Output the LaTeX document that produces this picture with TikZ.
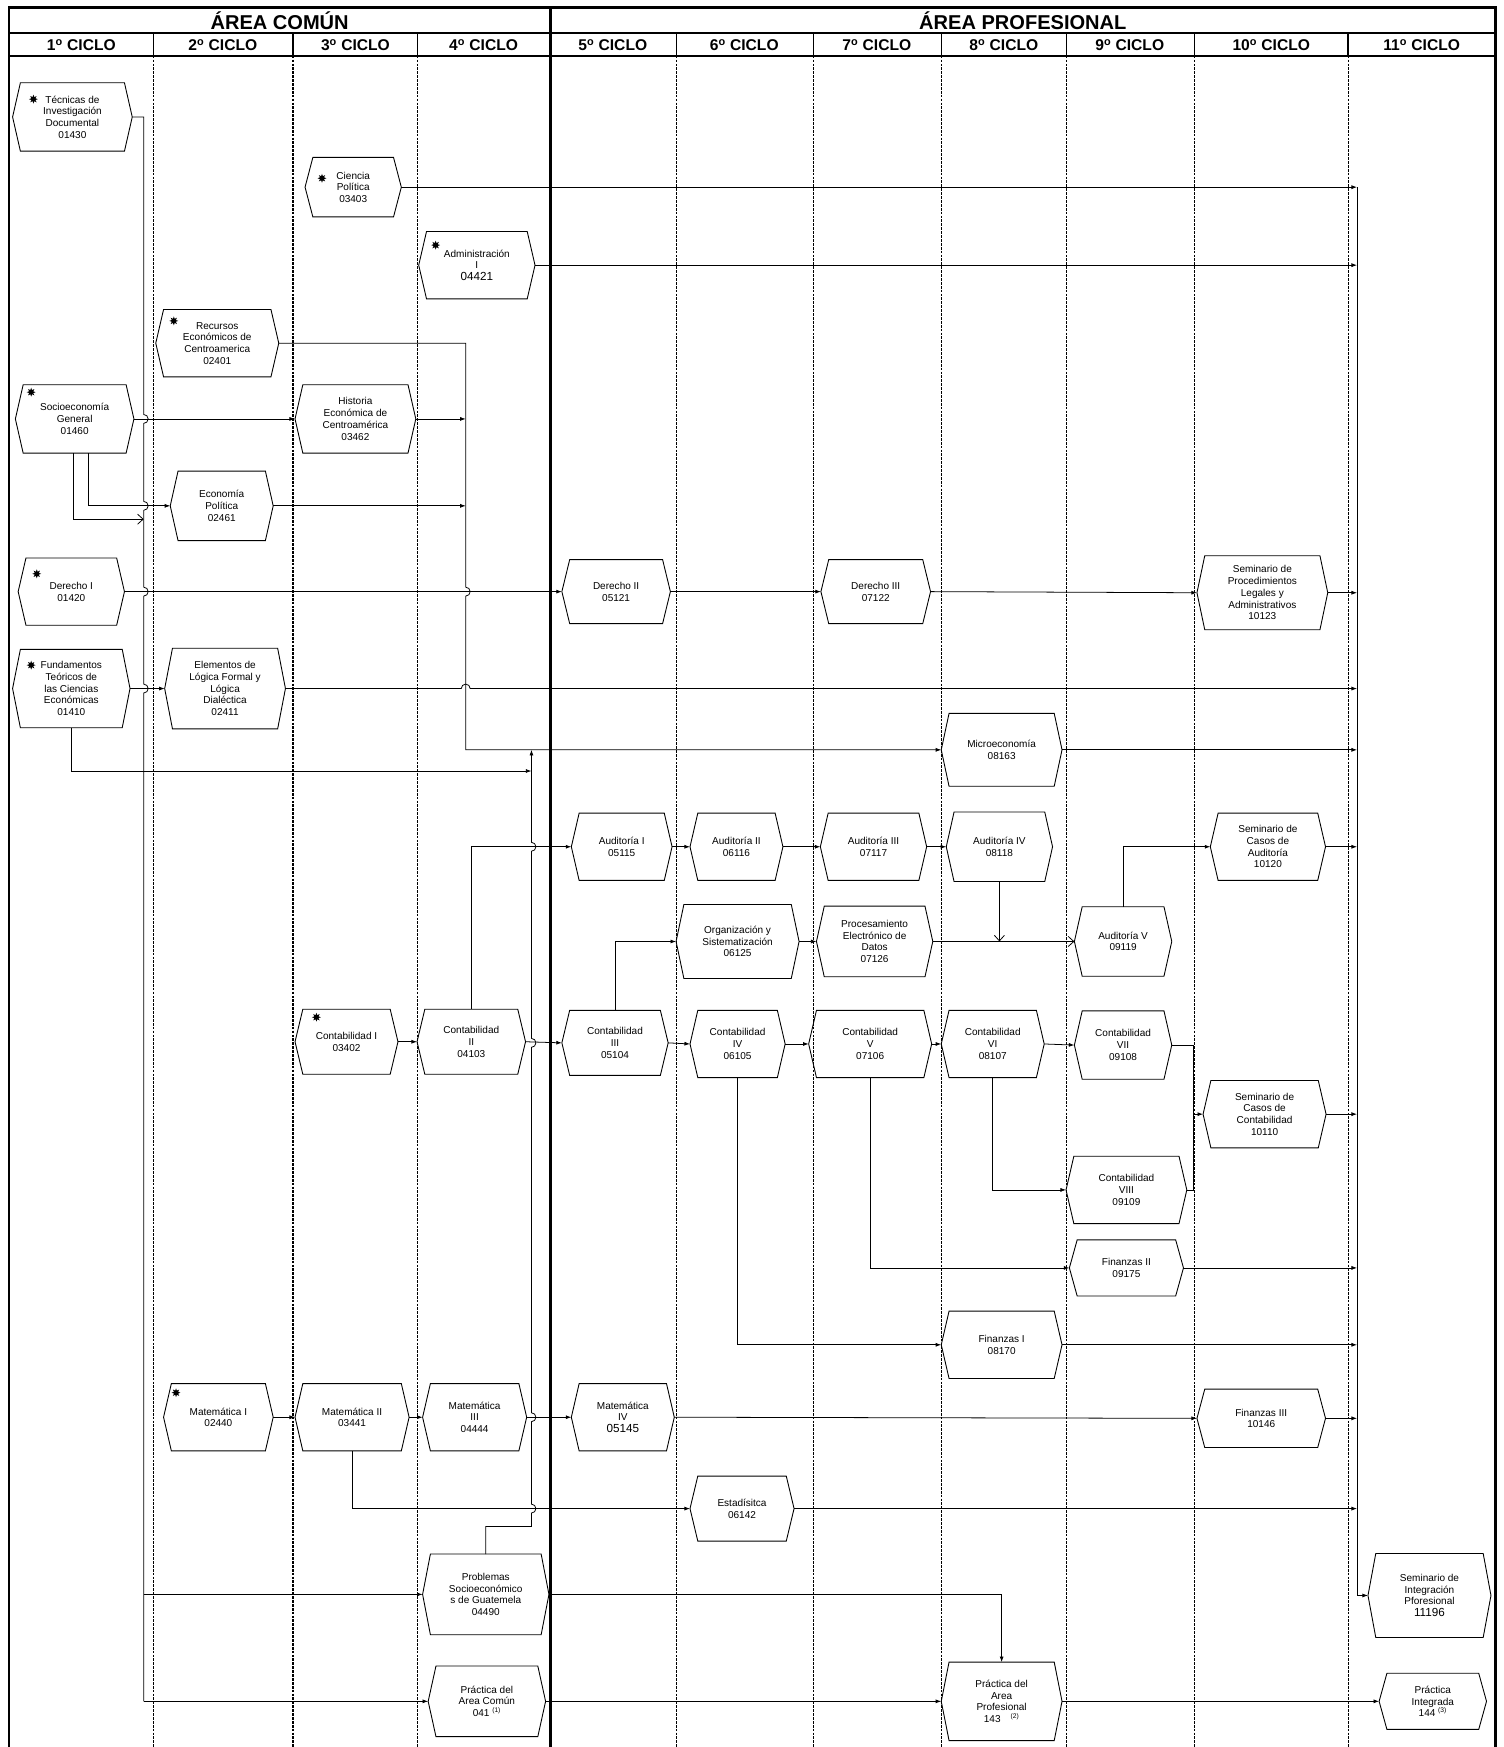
\documentclass[tikz,border=0pt]{standalone}
\usepackage{fontspec}
\setmainfont{Liberation Sans}
\usetikzlibrary{arrows.meta,calc,shapes.geometric}
\newcommand\nodetxt{\fontsize{9}{10.5}\selectfont}
\newcommand\bignum[1]{{\fontsize{10.5}{12}\selectfont #1}}
\newcommand\hexbox[6]{%
  \node[hexn, minimum width=#4pt, minimum height=#5pt] (#1) at (#2,#3) {#6};
  \draw[hexline] (#1.west) -- ([xshift=7pt]#1.north west) -- ([xshift=-7pt]#1.north east) -- (#1.east) -- ([xshift=-7pt]#1.south east) -- ([xshift=7pt]#1.south west) -- cycle;
}
\tikzset{
  hexn/.style={inner sep=0pt, align=center, font=\nodetxt},
  hexline/.style={line width=0.8pt, line join=miter},
  conn/.style={line width=0.7pt},
  arr/.style={conn, -{Latex[length=5pt,width=3.6pt]}},
  oarr/.style={conn, -{Straight Barb[length=5pt,width=9pt]}},
  starmark/.style={star, star points=8, star point ratio=2.0, fill, draw=none, minimum size=8pt, inner sep=0pt},
  framethick/.style={line width=2.4pt},
  rowline/.style={line width=1.8pt},
  hdrsep/.style={line width=1.2pt},
  colsep/.style={line width=1.1pt, dash pattern=on 2.5pt off 1pt},
  areatxt/.style={font=\fontsize{18}{20}\selectfont\bfseries},
  ciclotxt/.style={font=\fontsize{14}{15}\selectfont\bfseries},
}
\begin{document}
\begin{tikzpicture}[x=1pt,y=-1pt]
\useasboundingbox (0,0) rectangle (1349,1568);
% ---------- frame and header ----------
\foreach \cx in {138,263,375,607,730,845,957,1072,1210}{
  \draw[hdrsep] (\cx,30) -- (\cx,50);
  \draw[colsep] (\cx,50) -- (\cx,1568);
}
\draw[rowline] (8,30) -- (1342,30);
\draw[rowline] (8,50) -- (1342,50);
\draw[framethick] (494,7) -- (494,1568);
\draw[framethick] (8,1568) -- (8,7) -- (1342,7) -- (1342,1568);
\node[areatxt] (hA) at (251,19) {ÁREA COMÚN};
\node[areatxt] (hP) at (918,19) {ÁREA PROFESIONAL};
\node[ciclotxt] (c1) at (73,40.5) {1\textsuperscript{o} CICLO};
\node[ciclotxt] (c2) at (200,40.5) {2\textsuperscript{o} CICLO};
\node[ciclotxt] (c3) at (319,40.5) {3\textsuperscript{o} CICLO};
\node[ciclotxt] (c4) at (434,40.5) {4\textsuperscript{o} CICLO};
\node[ciclotxt] (c5) at (550,40.5) {5\textsuperscript{o} CICLO};
\node[ciclotxt] (c6) at (668,40.5) {6\textsuperscript{o} CICLO};
\node[ciclotxt] (c7) at (787,40.5) {7\textsuperscript{o} CICLO};
\node[ciclotxt] (c8) at (901,40.5) {8\textsuperscript{o} CICLO};
\node[ciclotxt] (c9) at (1014,40.5) {9\textsuperscript{o} CICLO};
\node[ciclotxt] (c10) at (1141,40.5) {10\textsuperscript{o} CICLO};
\node[ciclotxt] (c11) at (1276,40.5) {11\textsuperscript{o} CICLO};
% ---------- nodes ----------
\hexbox{n01430}{65}{105}{107}{61}{Técnicas de\\Investigación\\Documental\\01430}
\hexbox{n03403}{317}{168}{86}{53}{Ciencia\\Política\\03403}
\hexbox{n04421}{428}{238}{104}{60}{Administración\\I\\\bignum{04421}}
\hexbox{n02401}{195}{308}{110}{60}{Recursos\\Económicos de\\Centroamerica\\02401}
\hexbox{n01460}{67}{376}{106}{61}{Socioeconomía\\General\\01460}
\hexbox{n03462}{319}{376}{108}{61}{Historia\\Económica de\\Centroamérica\\03462}
\hexbox{n02461}{199}{454}{92}{62}{Economía\\Política\\02461}
\hexbox{n01420}{64}{531}{95}{60}{Derecho I\\01420}
\hexbox{n05121}{553}{531}{97}{57}{Derecho II\\05121}
\hexbox{n07122}{786}{531}{98}{57}{Derecho III\\07122}
\hexbox{n10123}{1133}{532}{117}{66}{Seminario de\\Procedimientos\\Legales y\\Administrativos\\10123}
\hexbox{n01410}{64}{618}{105}{70}{Fundamentos\\Teóricos de\\las Ciencias\\Económicas\\01410}
\hexbox{n02411}{202}{618}{108}{72}{Elementos de\\Lógica Formal y\\Lógica\\Dialéctica\\02411}
\hexbox{n08163}{899}{673}{108}{65}{Microeconomía\\08163}
\hexbox{n05115}{558}{760}{90}{60}{Auditoría I\\05115}
\hexbox{n06116}{661}{760}{83}{60}{Auditoría II\\06116}
\hexbox{n07117}{784}{760}{95}{60}{Auditoría III\\07117}
\hexbox{n08118}{897}{760}{95}{62}{Auditoría IV\\08118}
\hexbox{n10120}{1138}{760}{103}{60}{Seminario de\\Casos de\\Auditoría\\10120}
\hexbox{n06125}{662}{845}{110}{66}{Organización y\\Sistematización\\06125}
\hexbox{n07126}{785}{845}{104}{63}{Procesamiento\\Electrónico de\\Datos\\07126}
\hexbox{n09119}{1008}{845}{87}{62}{Auditoría V\\09119}
\hexbox{n03402}{311}{935}{92}{58}{Contabilidad I\\03402}
\hexbox{n04103}{423}{935}{97}{58}{Contabilidad\\II\\04103}
\hexbox{n05104}{552}{936}{95}{58}{Contabilidad\\III\\05104}
\hexbox{n06105}{662}{937}{85}{60}{Contabilidad\\IV\\06105}
\hexbox{n07106}{781}{937}{110}{60}{Contabilidad\\V\\07106}
\hexbox{n08107}{891}{937}{92}{60}{Contabilidad\\VI\\08107}
\hexbox{n09108}{1008}{938}{87}{61}{Contabilidad\\VII\\09108}
\hexbox{n10110}{1135}{1000}{110}{60}{Seminario de\\Casos de\\Contabilidad\\10110}
\hexbox{n09109}{1011}{1068}{108}{60}{Contabilidad\\VIII\\09109}
\hexbox{n09175}{1011}{1138}{102}{50}{Finanzas II\\09175}
\hexbox{n08170}{899}{1207}{108}{60}{Finanzas I\\08170}
\hexbox{n02440}{196}{1272}{98}{60}{Matemática I\\02440}
\hexbox{n03441}{316}{1272}{102}{60}{Matemática II\\03441}
\hexbox{n04444}{426}{1272}{93}{60}{Matemática\\III\\04444}
\hexbox{n05145}{559}{1272}{92}{60}{Matemática\\IV\\\bignum{05145}}
\hexbox{n10146}{1132}{1273}{115}{52}{Finanzas III\\10146}
\hexbox{n06142}{666}{1354}{93}{58}{Estadísitca\\06142}
\hexbox{n04490}{436}{1431}{113}{72}{Problemas\\Socioeconómico\\s de Guatemela\\04490}
\hexbox{n11196}{1283}{1432}{110}{75}{Seminario de\\Integración\\Pforesional\\\bignum{11196}}
\hexbox{n041}{437}{1527}{105}{63}{Práctica del\\Area Común\\041 \textsuperscript{(1)}}
\hexbox{n143}{899}{1527}{108}{70}{Práctica del\\Area\\Profesional\\143\quad\textsuperscript{(2)}}
\hexbox{n144}{1286}{1527}{96}{50}{Práctica\\Integrada\\144 \textsuperscript{(3)}}
% ---------- star marks ----------
\node[starmark] (s1) at (30,89) {};
\node[starmark] (s2) at (289,160) {};
\node[starmark] (s3) at (391,220) {};
\node[starmark] (s4) at (156,288) {};
\node[starmark] (s5) at (28,352) {};
\node[starmark] (s6) at (33,515) {};
\node[starmark] (s7) at (28,597) {};
\node[starmark] (s8) at (284,913) {};
\node[starmark] (s9) at (158,1250) {};
% ---------- helper coordinates ----------
\coordinate (vA) at (129,0);
\coordinate (vD) at (418,0);
\coordinate (vE) at (477,0);
\coordinate (vK) at (1071,0);
\coordinate (vR) at (1218,0);
\coordinate (yS) at (0,466);
\coordinate (yF) at (0,692);
\coordinate (yP) at (0,1370);
% ---------- connectors ----------
% vertical A
\draw[conn] (n01430.east) -- (n01430.east -| vA)
  -- ($(vA |- n01460.east)+(0,-4)$) arc[start angle=90,end angle=-90,radius=4pt]
  -- ($(vA |- n02461.west)+(0,-4)$) arc[start angle=90,end angle=-90,radius=4pt]
  -- ($(vA |- n01420.east)+(0,-4)$) arc[start angle=90,end angle=-90,radius=4pt]
  -- ($(vA |- n01410.east)+(0,-4)$) arc[start angle=90,end angle=-90,radius=4pt]
  -- (vA |- n041.west);
\draw[arr] (vA |- n041.west) -- (n041.west);
\draw[arr] (vA |- n04490.west) -- (n04490.west);
% socioeconomia
\draw[arr] (n01460.east) -- (n03462.west);
\draw[arr] ($(n01460.south)+(12,0)$) |- (n02461.west);
\draw[oarr] ($(n01460.south)+(-1,0)$) |- (vA |- yS);
% recursos / vertical D
\draw[arr] (n02401.east) -- (n02401.east -| vD)
  -- ($(vD |- n01420.east)+(0,-4)$) arc[start angle=90,end angle=-90,radius=4pt]
  -- (vD |- n08163.west) -- (n08163.west);
\draw[arr] (n03462.east) -- (n03462.east -| vD);
\draw[arr] (n02461.east) -- (n02461.east -| vD);
% derecho
\draw[arr] (n01420.east) -- (n05121.west);
\draw[arr] (n05121.east) -- (n07122.west);
\draw[arr] (n07122.east) -- (n10123.west);
\draw[arr] (n10123.east) -- (n10123.east -| vR);
% fundamentos
\draw[arr] (n01410.east) -- (n02411.west);
\draw[arr] (n02411.east) -- ($(vD |- n02411.east)+(-4,0)$) arc[start angle=180,end angle=0,radius=4pt] -- (n02411.east -| vR);
\draw[arr] (n01410.south) |- (vE |- yF);
% vertical E
\draw[arr] (n04490.north) -- (n04490.north |- yP) -- (vE |- yP)
  -- ($(vE |- n06142.west)+(0,4)$) arc[start angle=-90,end angle=90,radius=4pt]
  -- ($(vE |- n03441.east)+(0,4)$) arc[start angle=-90,end angle=90,radius=4pt]
  -- ($(vE |- n05104.west)+(0,4)$) arc[start angle=-90,end angle=90,radius=4pt]
  -- ($(vE |- n05115.west)+(0,4)$) arc[start angle=-90,end angle=90,radius=4pt]
  -- (vE |- n08163.west);
% to the collector
\draw[arr] (n03403.east) -- (n03403.east -| vR);
\draw[arr] (n04421.east) -- (n04421.east -| vR);
\draw[arr] (n08163.east) -- (n08163.east -| vR);
% auditoria
\draw[arr] (n04103.north) |- (n05115.west);
\draw[arr] (n05115.east) -- (n06116.west);
\draw[arr] (n06116.east) -- (n07117.west);
\draw[arr] (n07117.east) -- (n08118.west);
\draw[oarr] (n08118.south) -- (n08118.south |- n07126.east);
\draw[arr] (n05104.north) |- (n06125.west);
\draw[arr] (n06125.east) -- (n07126.west);
\draw[oarr] (n07126.east) -- (n09119.west);
\draw[arr] (n09119.north) |- (n10120.west);
\draw[arr] (n10120.east) -- (n10120.east -| vR);
% contabilidad
\draw[arr] (n03402.east) -- (n04103.west);
\draw[arr] (n04103.east) -- (n05104.west);
\draw[arr] (n05104.east) -- (n06105.west);
\draw[arr] (n06105.east) -- (n07106.west);
\draw[arr] (n07106.east) -- (n08107.west);
\draw[arr] (n08107.east) -- (n09108.west);
\draw[conn] (n09108.east) -- (n09108.east -| vK) -- (vK |- n09109.east) -- (n09109.east);
\draw[arr] (vK |- n10110.west) -- (n10110.west);
\draw[arr] (n10110.east) -- (n10110.east -| vR);
\draw[arr] (n08107.south) |- (n09109.west);
\draw[arr] (n07106.south) |- (n09175.west);
\draw[arr] (n06105.south) |- (n08170.west);
\draw[arr] (n09175.east) -- (n09175.east -| vR);
\draw[arr] (n08170.east) -- (n08170.east -| vR);
% matematica
\draw[arr] (n02440.east) -- (n03441.west);
\draw[arr] (n03441.east) -- (n04444.west);
\draw[arr] (n04444.east) -- (n05145.west);
\draw[arr] (n05145.east) -- (n10146.west);
\draw[arr] (n10146.east) -- (n10146.east -| vR);
\draw[arr] (n03441.south) |- (n06142.west);
\draw[arr] (n06142.east) -- (n06142.east -| vR);
% practicas
\draw[arr] (n04490.east) -| (n143.north);
\draw[arr] (n041.east) -- (n143.west);
\draw[arr] (n143.east) -- (n144.west);
% collector
\draw[arr] (vR |- n03403.east) -- (vR |- n11196.west) -- (n11196.west);
\end{tikzpicture}
\end{document}
